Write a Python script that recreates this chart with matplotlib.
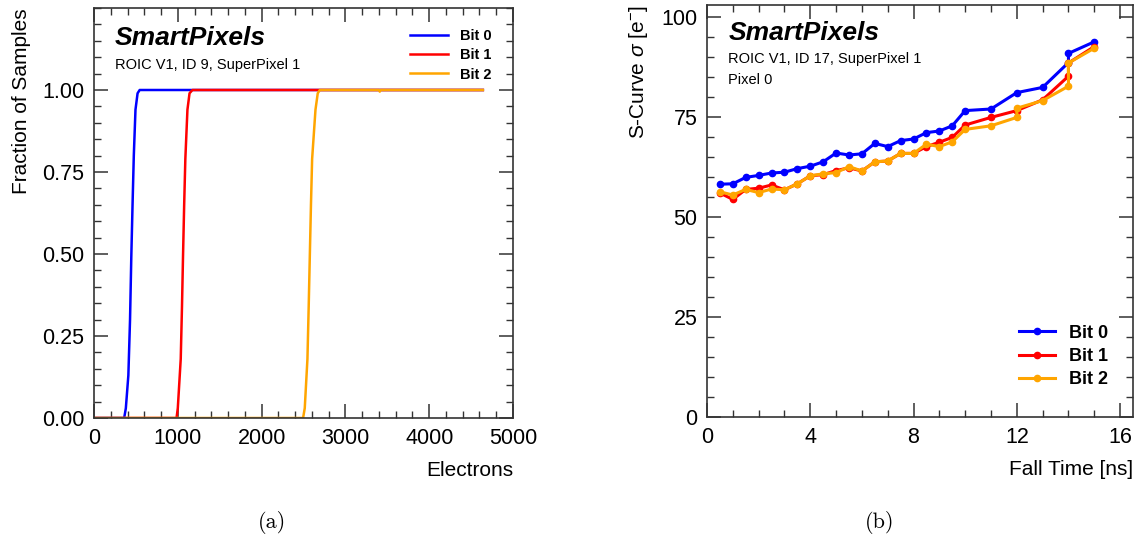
import matplotlib.pyplot as plt
import numpy as np
from matplotlib.ticker import MultipleLocator

plt.rcParams['font.family'] = ['Liberation Sans', 'DejaVu Sans']
plt.rcParams['mathtext.fontset'] = 'custom'
plt.rcParams['mathtext.it'] = 'Liberation Sans:italic'
plt.rcParams['mathtext.rm'] = 'Liberation Sans'

# (a) S-curves, fraction of samples vs injected electrons
bit0_e = [0, 360, 380, 410, 430, 445, 460, 475, 495, 520, 545, 4640]
bit0_f = [0, 0, 0.03, 0.13, 0.30, 0.49, 0.65, 0.80, 0.94, 0.99, 1.0, 1.0]
bit1_e = [0, 985, 1000, 1035, 1050, 1062, 1076, 1090, 1115, 1140, 1175, 4640]
bit1_f = [0, 0, 0.03, 0.18, 0.34, 0.49, 0.65, 0.79, 0.94, 0.99, 1.0, 1.0]
bit2_e = [0, 2495, 2515, 2547, 2562, 2575, 2589, 2603, 2643, 2670, 2695, 3400, 3410, 3420, 4640]
bit2_f = [0, 0, 0.03, 0.18, 0.34, 0.49, 0.65, 0.79, 0.94, 0.99, 1.0, 1.0, 0.995, 1.0, 1.0]

# (b) S-curve width vs fall time
t_b0 = [0.5, 1, 1.5, 2, 2.5, 3, 3.5, 4, 4.5, 5, 5.5, 6, 6.5, 7, 7.5, 8, 8.5, 9, 9.5, 10, 11, 12, 13, 14, 14, 15]
s_b0 = [58.2, 58.3, 59.9, 60.4, 61.0, 61.2, 62.1, 62.7, 63.8, 66.0, 65.5, 65.8, 68.4, 67.6, 69.1, 69.5,
        71.1, 71.5, 72.8, 76.6, 77.0, 81.1, 82.4, 88.6, 90.9, 93.8]
t_b1 = [0.5, 1, 1.5, 2, 2.5, 3, 3.5, 4, 4.5, 5, 5.5, 6, 6.5, 7, 7.5, 8, 8.5, 9, 9.5, 10, 11, 12, 13, 14, 14, 15]
s_b1 = [56.0, 54.4, 56.9, 57.2, 58.0, 56.8, 58.3, 60.3, 60.6, 61.6, 62.3, 61.5, 63.8, 64.0, 65.9, 65.9,
        67.6, 68.7, 69.9, 73.0, 74.9, 76.6, 79.3, 85.2, 88.5, 92.6]
t_b2 = [0.5, 1, 1.5, 2, 2.5, 3, 3.5, 4, 4.5, 5, 5.5, 6, 6.5, 7, 7.5, 8, 8.5, 9, 9.5, 10, 11, 12, 12, 13, 14, 14, 15]
s_b2 = [56.3, 55.5, 56.9, 56.1, 57.0, 56.8, 58.3, 60.3, 60.8, 61.1, 62.6, 61.5, 63.8, 64.0, 65.9, 65.9,
        68.2, 67.6, 68.8, 71.9, 72.8, 74.9, 77.2, 79.1, 82.7, 88.5, 92.2]

colors = ['blue', 'red', 'orange']
labels = ['Bit 0', 'Bit 1', 'Bit 2']


def style_axis(ax):
    ax.tick_params(which='both', direction='in', top=True, right=True,
                   labelsize=15.5, colors='#333333', labelcolor='black', pad=7)
    ax.tick_params(which='major', length=10, width=1.1)
    ax.tick_params(which='minor', length=5, width=1.0)
    for sp in ax.spines.values():
        sp.set_color('#333333')
        sp.set_linewidth(1.2)


fig = plt.figure(figsize=(11.42, 5.41), dpi=100)
W, H = 1142, 541
ax1 = fig.add_axes([94 / W, (H - 418) / H, (513 - 94) / W, (418 - 8) / H])
ax2 = fig.add_axes([707 / W, (H - 417) / H, (1133 - 707) / W, (417 - 5) / H])

# left panel
for e, f, c, l in zip([bit0_e, bit1_e, bit2_e], [bit0_f, bit1_f, bit2_f], colors, labels):
    ax1.plot(e, f, color=c, lw=1.8, label=l)
ax1.set_xlim(0, 5000)
ax1.set_ylim(0, 1.25)
ax1.set_yticks([0, 0.25, 0.5, 0.75, 1.0])
ax1.set_yticklabels(['0.00', '0.25', '0.50', '0.75', '1.00'])
ax1.xaxis.set_major_locator(MultipleLocator(1000))
ax1.xaxis.set_minor_locator(MultipleLocator(200))
ax1.yaxis.set_minor_locator(MultipleLocator(0.05))
style_axis(ax1)
ax1.set_xlabel('Electrons', fontsize=15, loc='right', labelpad=9)
ax1.set_ylabel('Fraction of Samples', fontsize=15, loc='top', labelpad=8)
ax1.text(0.05, 0.955, 'SmartPixels', transform=ax1.transAxes, fontsize=19,
         fontweight='bold', fontstyle='italic', va='top')
ax1.text(0.05, 0.878, 'ROIC V1, ID 9, SuperPixel 1', transform=ax1.transAxes,
         fontsize=10.5, va='top')
ax1.legend(loc='upper right', frameon=False, handlelength=2.6,
           prop={'weight': 'bold', 'size': 10.5}, labelspacing=0.35,
           bbox_to_anchor=(0.98, 0.98))

# right panel
for t, s, c, l in zip([t_b0, t_b1, t_b2], [s_b0, s_b1, s_b2], colors, labels):
    ax2.plot(t, s, color=c, lw=2.2, marker='o', ms=4.5, label=l)
ax2.set_xlim(0, 16.5)
ax2.set_ylim(0, 103)
ax2.xaxis.set_major_locator(MultipleLocator(4))
ax2.xaxis.set_minor_locator(MultipleLocator(1))
ax2.yaxis.set_major_locator(MultipleLocator(25))
ax2.yaxis.set_minor_locator(MultipleLocator(5))
style_axis(ax2)
ax2.set_xlabel('Fall Time [ns]', fontsize=15, loc='right', labelpad=9)
ax2.set_ylabel(r'S-Curve $\sigma$ [e$^{-}$]', fontsize=15, loc='top', labelpad=8)
ax2.text(0.05, 0.96, 'SmartPixels', transform=ax2.transAxes, fontsize=19,
         fontweight='bold', fontstyle='italic', va='top')
ax2.text(0.05, 0.885, 'ROIC V1, ID 17, SuperPixel 1', transform=ax2.transAxes,
         fontsize=10.5, va='top')
ax2.text(0.05, 0.835, 'Pixel 0', transform=ax2.transAxes, fontsize=10.5, va='top')
ax2.legend(loc='lower right', frameon=False, handlelength=2.0,
           prop={'weight': 'bold', 'size': 13}, labelspacing=0.35,
           bbox_to_anchor=(0.98, 0.03))

# sub-figure captions
fig.text(272 / W, 1 - 523 / H, '(a)', family='cmr10', fontsize=16, ha='center', va='center')
fig.text(880 / W, 1 - 523 / H, '(b)', family='cmr10', fontsize=16, ha='center', va='center')

fig.savefig('out.png', dpi=100)
